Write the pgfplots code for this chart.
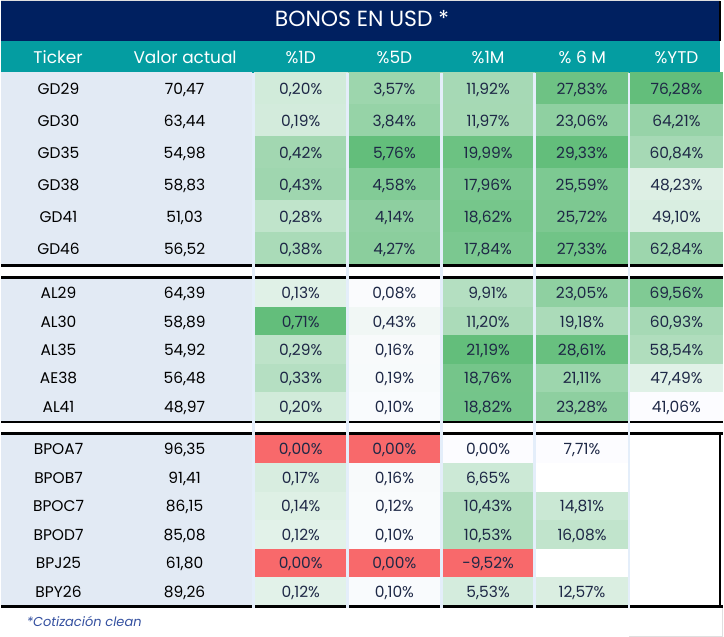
\documentclass[border=0pt]{standalone}
\usepackage{pgfplots}
\pgfplotsset{compat=1.18}
\usepackage{pgfplotstable}
\usepackage{fontspec}
\setmainfont{Poppins}
\definecolor{navy}{RGB}{0,32,96}
\definecolor{hdrteal}{RGB}{4,157,161}
\definecolor{leftbg}{RGB}{226,234,244}
\definecolor{sepc}{RGB}{228,238,250}
\definecolor{xlred}{RGB}{248,105,107}
\definecolor{xlwhite}{RGB}{252,252,255}
\definecolor{xlgreen}{RGB}{99,190,123}
\definecolor{pcttext}{RGB}{30,40,70}
\definecolor{foot}{RGB}{52,80,160}
\colorlet{cc}{xlwhite}
\newcommand\fbody{\fontsize{15.5}{18}\selectfont}
\newcommand\fhead{\fontsize{17}{20}\selectfont}
\pgfkeys{/pgf/number format/assume math mode=true}

\def\cellWW{94}
\def\cellHW{47}
\def\cellHt{32.1}
\def\cellHH{16.05}
\def\cellH{32.1}
\def\cellV{0}
\pgfdeclareplotmark{cell}{%
  \pgfpathrectangle{\pgfpoint{-\cellHW pt}{-\cellHH pt}}{\pgfpoint{\cellWW pt}{\cellHt pt}}%
  \pgfsetfillcolor{cc}%
  \pgfusepathqfill}

% ticker, price (row position y)
\pgfplotstableread{
y      t     val
88.75  GD29  70.47
120.85 GD30  63.44
152.95 GD35  54.98
185.05 GD38  58.83
217.15 GD41  51.03
249.25 GD46  56.52
293.75 AL29  64.39
322.25 AL30  58.89
350.75 AL35  54.92
379.25 AE38  56.48
407.75 AL41  48.97
450.30 BPOA7 96.35
478.90 BPOB7 91.41
507.45 BPOC7 86.15
536.05 BPOD7 85.08
564.65 BPJ25 61.80
593.25 BPY26 89.26
}\bonos
% %1D
\pgfplotstableread{
y      h    v
88.75  32.1 0.20
120.85 32.1 0.19
152.95 32.1 0.42
185.05 32.1 0.43
217.15 32.1 0.28
249.25 32.1 0.38
293.75 28.5 0.13
322.25 28.5 0.71
350.75 28.5 0.29
379.25 28.5 0.33
407.75 28.5 0.20
450.30 28.6 0.00
478.90 28.6 0.17
507.45 28.6 0.14
536.05 28.6 0.12
564.65 28.6 0.00
593.25 28.6 0.12
}\tOneD
% %5D
\pgfplotstableread{
y      h    v
88.75  32.1 3.57
120.85 32.1 3.84
152.95 32.1 5.76
185.05 32.1 4.58
217.15 32.1 4.14
249.25 32.1 4.27
293.75 28.5 0.08
322.25 28.5 0.43
350.75 28.5 0.16
379.25 28.5 0.19
407.75 28.5 0.10
450.30 28.6 0.00
478.90 28.6 0.16
507.45 28.6 0.12
536.05 28.6 0.10
564.65 28.6 0.00
593.25 28.6 0.10
}\tFiveD
% %1M
\pgfplotstableread{
y      h    v
88.75  32.1 11.92
120.85 32.1 11.97
152.95 32.1 19.99
185.05 32.1 17.96
217.15 32.1 18.62
249.25 32.1 17.84
293.75 28.5 9.91
322.25 28.5 11.20
350.75 28.5 21.19
379.25 28.5 18.76
407.75 28.5 18.82
450.30 28.6 0.00
478.90 28.6 6.65
507.45 28.6 10.43
536.05 28.6 10.53
564.65 28.6 -9.52
593.25 28.6 5.53
}\tOneM
% % 6 M
\pgfplotstableread{
y      h    v
88.75  32.1 27.83
120.85 32.1 23.06
152.95 32.1 29.33
185.05 32.1 25.59
217.15 32.1 25.72
249.25 32.1 27.33
293.75 28.5 23.05
322.25 28.5 19.18
350.75 28.5 28.61
379.25 28.5 21.11
407.75 28.5 23.28
450.30 28.6 7.71
507.45 28.6 14.81
536.05 28.6 16.08
593.25 28.6 12.57
}\tSixM
% %YTD
\pgfplotstableread{
y      h    v
88.75  32.1 76.28
120.85 32.1 64.21
152.95 32.1 60.84
185.05 32.1 48.23
217.15 32.1 49.10
249.25 32.1 62.84
293.75 28.5 69.56
322.25 28.5 60.93
350.75 28.5 58.54
379.25 28.5 47.49
407.75 28.5 41.06
}\tYTD

\pgfplotsset{
  heat/.style n args={4}{
    scatter, only marks, mark=cell,
    point meta=explicit,
    visualization depends on={\thisrow{v} \as \cellV},
    visualization depends on={\thisrow{h} \as \cellH},
    scatter/@pre marker code/.code={%
      \edef\ct{\fpeval{(\cellV < (#2)) ? -((#2)-(\cellV))/((#2)-(#1)) : ((\cellV)-(#2))/((#3)-(#2))}}%
      \edef\cp{\fpeval{round(100*abs(\ct),2)}}%
      \ifdim\ct pt<0pt
        \xglobal\colorlet{cc}{xlred!\cp!xlwhite}%
      \else
        \xglobal\colorlet{cc}{xlgreen!\cp!xlwhite}%
      \fi
      \xdef\cellWW{#4}%
      \xdef\cellHW{\fpeval{0.5*(#4)}}%
      \xdef\cellHt{\cellH}%
      \xdef\cellHH{\fpeval{0.5*(\cellH)}}%
    },
    scatter/@post marker code/.code={},
  },
  pcttxt/.style={
    draw=none, mark=none, point meta=explicit,
    nodes near coords={\pgfmathprintnumber[fixed,fixed zerofill,precision=2,use comma]{\pgfplotspointmeta}\%},
    nodes near coords style={anchor=base, yshift=-6pt, text=pcttext, font=\fbody, inner sep=0pt},
  },
}

\begin{document}
\begin{tikzpicture}
\begin{axis}[
  width=724pt, height=639pt, scale only axis,
  xmin=0, xmax=724, ymin=0, ymax=639, y dir=reverse,
  hide axis, clip=false, set layers,
]
% background and frames
\fill[white] (0,0) rectangle (724,639);
\fill[gray!25] (0,0) rectangle (721,0.8);
\fill[navy] (0,0.8) rectangle (720.3,41);
\fill[black] (720.3,0.8) rectangle (722,41);
\fill[hdrteal] (0,41) rectangle (721.5,73);
\fill[leftbg] (0,72.7) rectangle (252,266);
\fill[leftbg] (0,278) rectangle (252,423);
\fill[leftbg] (0,435) rectangle (252,609);

% heat-map cells
\addplot[heat={0}{0.001}{0.71}{94}] table[x expr=300.5, y=y, meta=v]{\tOneD};
\addplot[heat={0}{0.001}{5.76}{94}] table[x expr=394.5, y=y, meta=v]{\tFiveD};
\addplot[heat={-9.52}{0}{21.19}{94}] table[x expr=488.5, y=y, meta=v]{\tOneM};
\addplot[heat={6.71}{7.71}{29.33}{94}] table[x expr=582.75, y=y, meta=v]{\tSixM};
\addplot[heat={40.06}{41.06}{76.28}{93}] table[x expr=677.5, y=y, meta=v]{\tYTD};

% cell values
\addplot[pcttxt] table[x expr=300.5, y=y, meta=v]{\tOneD};
\addplot[pcttxt] table[x expr=394.5, y=y, meta=v]{\tFiveD};
\addplot[pcttxt] table[x expr=488.5, y=y, meta=v]{\tOneM};
\addplot[pcttxt] table[x expr=582.75, y=y, meta=v]{\tSixM};
\addplot[pcttxt] table[x expr=677.5, y=y, meta=v]{\tYTD};

% tickers and prices
\addplot[draw=none, mark=none, nodes near coords, point meta=explicit symbolic,
  nodes near coords style={anchor=base, yshift=-6pt, text=black, font=\fbody, inner sep=0pt}]
  table[x expr=57.5, y=y, meta=t]{\bonos};
\addplot[draw=none, mark=none, point meta=explicit,
  nodes near coords={\pgfmathprintnumber[fixed,fixed zerofill,precision=2,use comma]{\pgfplotspointmeta}},
  nodes near coords style={anchor=base, yshift=-6pt, text=black, font=\fbody, inner sep=0pt}]
  table[x expr=184, y=y, meta=val]{\bonos};

\begin{pgfonlayer}{axis foreground}
% group rules
\draw[black, line width=2.4pt] (0,266.2) -- (724,266.2);
\draw[black, line width=2.4pt] (0,278.3) -- (724,278.3);
\draw[black, line width=2.4pt] (0,423.3) -- (724,423.3);
\draw[black, line width=2.4pt] (0,434.8) -- (724,434.8);
\draw[black, line width=2.4pt] (0,608.5) -- (724,608.5);
\draw[black, line width=2pt] (721.6,434) -- (721.6,609.6);
\draw[gray!25, line width=0.8pt] (630,638.4) -- (723.6,638.4) -- (723.6,609.7);
% column separators
\fill[sepc] (252,73) rectangle (255,610);
\fill[sepc] (346,73) rectangle (349,610);
\fill[sepc] (440,73) rectangle (443,610);
\fill[sepc] (534,73) rectangle (537,610);
\fill[sepc] (628.5,73) rectangle (631,610);
\end{pgfonlayer}

% titles
\node[font=\fontsize{22}{26}\selectfont, text=white, inner sep=0pt, anchor=base] at (362,27) {BONOS EN USD *};
\node[font=\fhead, text=white, inner sep=0pt, anchor=base] at (57,63.3) {Ticker};
\node[font=\fhead, text=white, inner sep=0pt, anchor=base] at (184.5,63.3) {Valor actual};
\node[font=\fhead, text=white, inner sep=0pt, anchor=base] at (300.5,63.3) {\%1D};
\node[font=\fhead, text=white, inner sep=0pt, anchor=base] at (394.5,63.3) {\%5D};
\node[font=\fhead, text=white, inner sep=0pt, anchor=base] at (488.5,63.3) {\%1M};
\node[font=\fhead, text=white, inner sep=0pt, anchor=base] at (583,63.3) {\% 6 M};
\node[font=\fhead, text=white, inner sep=0pt, anchor=base] at (677.5,63.3) {\%YTD};
\node[font=\fontsize{13}{15}\selectfont\itshape, text=foot, inner sep=0pt, anchor=base west] at (25.5,629) {*Cotización clean};
\end{axis}
\end{tikzpicture}
\end{document}
